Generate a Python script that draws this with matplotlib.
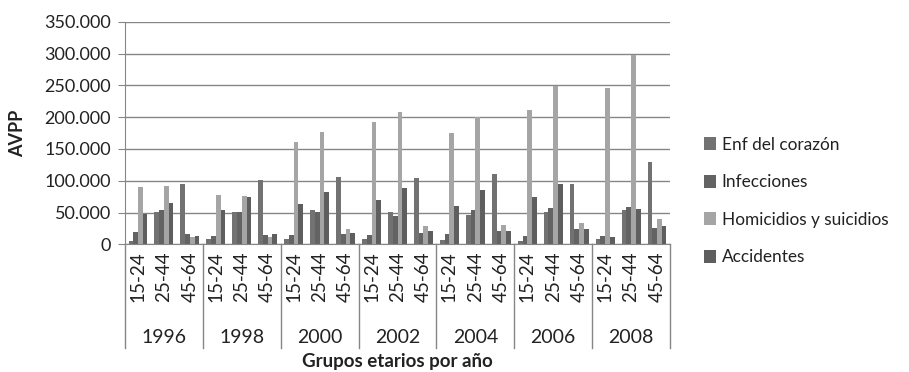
"""AVPP por grupos etarios y año: barras agrupadas en gris."""
import matplotlib
matplotlib.use("Agg")
import matplotlib.pyplot as plt
import matplotlib.transforms as mtransforms
from matplotlib.ticker import FuncFormatter

plt.rcParams["font.family"] = ["Lato", "DejaVu Sans"]

years = ["1996", "1998", "2000", "2002", "2004", "2006", "2008"]
ages = ["15-24", "25-44", "45-64"]
series = ["Enf del corazón", "Infecciones", "Homicidios y suicidios", "Accidentes"]
colors = ["#727272", "#636363", "#a5a5a5", "#5e5e5e"]

# valores por categoría (año x grupo etario), en el orden de years/ages
enf = [5700, 50300, 95300, 8300, 50800, 100600, 8300, 54000, 106300,
       8300, 50800, 104700, 6800, 46100, 111000, 5200, 50800, 95300,
       8300, 54000, 129900]
infec = [19300, 54000, 16200, 12600, 50800, 14100, 14100, 50800, 16200,
         14600, 44500, 17800, 16200, 54000, 20900, 12600, 57100, 24000,
         13000, 58600, 25600]
homic = [90100, 91700, 12000, 78000, 76000, 11500, 161300, 177000, 24000,
         192800, 208500, 28800, 174500, 200600, 30300, 210700, 248900, 33500,
         246200, 297600, 39800]
accid = [47600, 65000, 12600, 54000, 74400, 15700, 63400, 82200, 17800,
         69700, 88500, 20900, 60200, 85400, 20900, 74400, 95300, 24000,
         11500, 55500, 28800]

TXT = "#222222"
fig = plt.figure(figsize=(9.09, 3.72), dpi=100)
ax = fig.add_axes([125 / 909, 1 - 244.3 / 372, 545 / 909, 222.6 / 372])

n = len(enf)
xs = list(range(n))
w = 1 / 5.5
for i, (vals, name, c) in enumerate(zip([enf, infec, homic, accid], series, colors)):
    ax.bar([x + (i - 1.5) * w for x in xs], vals, w, color=c, label=name)

ax.set_xlim(-0.5, n - 0.5)
ax.set_ylim(0, 350000)
ax.set_yticks(range(0, 350001, 50000))
ax.yaxis.set_major_formatter(FuncFormatter(lambda v, _: f"{v:,.0f}".replace(",", ".")))
ax.grid(axis="y", color="#868686", lw=1)
ax.set_axisbelow(True)
for s in ("top", "right"):
    ax.spines[s].set_visible(False)
for s in ("left", "bottom"):
    ax.spines[s].set_color("#868686")
ax.tick_params(axis="y", length=5, color="#868686", labelsize=13, pad=5, labelcolor=TXT)

ax.set_xticks(xs)
ax.set_xticklabels(ages * len(years), rotation=90, fontsize=13.5, color=TXT)
ax.tick_params(axis="x", length=0, pad=5)

trans = mtransforms.blended_transform_factory(ax.transData, ax.transAxes)
for k, yr in enumerate(years):
    ax.text(3 * k + 1, -0.418, yr, transform=trans, ha="center", va="center",
            fontsize=14, color=TXT)
for k in range(len(years) + 1):
    ax.plot([3 * k - 0.5] * 2, [0, -0.466], transform=trans, color="#868686",
            lw=1, clip_on=False)

fig.text(397 / 909, 1 - 362 / 372, "Grupos etarios por año", ha="center", va="center",
         fontsize=13.5, fontweight="bold", color=TXT)
fig.text(18 / 909, 1 - 133 / 372, "AVPP", ha="center", va="center", rotation=90,
         fontsize=13, fontweight="bold", color=TXT)

fig.legend(*ax.get_legend_handles_labels(), loc="center left",
           bbox_to_anchor=(688 / 909, 1 - 201 / 372), frameon=False, fontsize=12.4,
           handlelength=0.75, handleheight=0.75, handletextpad=0.3, labelspacing=1.25,
           labelcolor=TXT)

fig.savefig("out.png", dpi=100)
